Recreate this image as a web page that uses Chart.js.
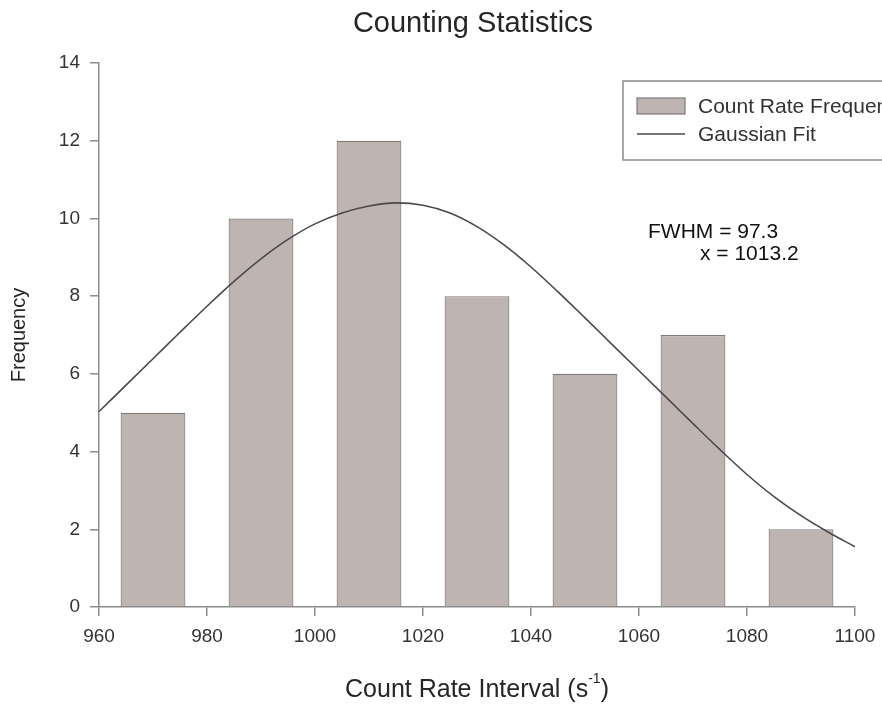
<!DOCTYPE html>
<html>
<head>
<meta charset="utf-8">
<script src="https://cdn.jsdelivr.net/npm/chart.js@4.4.1/dist/chart.umd.min.js"></script>
<style>
  html, body { margin: 0; padding: 0; background: #fff; }
  #wrap { width: 882px; height: 704px; }
</style>
</head>
<body>
<div id="wrap"><canvas id="myChart" width="882" height="704"></canvas></div>
<script>
    // histogram bins (centre of each 20 s^-1 interval) and counts
    const binCenters = [970, 990, 1010, 1030, 1050, 1070, 1090]
    const frequency = [5, 10, 12, 8, 6, 7, 2]

    // gaussian fit, every 5 units
    const fitX = [960, 965, 970, 975, 980, 985, 990, 995, 1000, 1005, 1010, 1015, 1020, 1025, 1030,
                  1035, 1040, 1045, 1050, 1055, 1060, 1065, 1070, 1075, 1080, 1085, 1090, 1095, 1100]
    const fitY = [5.03, 5.71, 6.39, 7.07, 7.74, 8.38, 8.96, 9.46, 9.86, 10.14, 10.32, 10.40, 10.34, 10.14, 9.79,
                  9.32, 8.75, 8.11, 7.44, 6.76, 6.08, 5.40, 4.72, 4.05, 3.41, 2.84, 2.35, 1.93, 1.55]

    const xTicks = [960, 980, 1000, 1020, 1040, 1060, 1080, 1100]
    const yTicks = [0, 2, 4, 6, 8, 10, 12, 14]

    const fontFam = '"Liberation Sans", Arial, Helvetica, sans-serif'
    const axisGray = '#8c8c8c'
    const barFill = '#beb4b1'
    const barEdge = '#807b79'
    const lineColor = '#4a4a4a'

    // title, axis titles, fit text and legend
    const extras = {
      id: 'extras',
      afterDraw(chart) {
        const ctx = chart.ctx
        const area = chart.chartArea
        ctx.save()
        ctx.fillStyle = '#262626'
        ctx.textBaseline = 'middle'

        // title
        ctx.font = '29px ' + fontFam
        ctx.textAlign = 'center'
        ctx.fillText('Counting Statistics', 473, 24)

        // x title with superscript
        ctx.font = '25px ' + fontFam
        ctx.textAlign = 'left'
        const part1 = 'Count Rate Interval (s'
        const sup = '-1'
        const w1 = ctx.measureText(part1).width
        ctx.font = '14px ' + fontFam
        const ws = ctx.measureText(sup).width
        ctx.font = '25px ' + fontFam
        const w2 = ctx.measureText(')').width
        let x0 = (area.left + area.right) / 2 - (w1 + ws + w2) / 2
        const ty = 690
        ctx.fillText(part1, x0, ty)
        ctx.font = '14px ' + fontFam
        ctx.fillText(sup, x0 + w1, ty - 11)
        ctx.font = '25px ' + fontFam
        ctx.fillText(')', x0 + w1 + ws, ty)

        // y title
        ctx.save()
        ctx.translate(19, (area.top + area.bottom) / 2)
        ctx.rotate(-Math.PI / 2)
        ctx.textAlign = 'center'
        ctx.font = '20px ' + fontFam
        ctx.fillText('Frequency', 0, 0)
        ctx.restore()

        // fit parameters
        ctx.fillStyle = '#111'
        ctx.font = '21px ' + fontFam
        ctx.textAlign = 'left'
        ctx.fillText('FWHM = 97.3', 648, 232)
        ctx.fillText('x = 1013.2', 700, 254)

        // legend box (runs off the right edge like the original)
        ctx.fillStyle = '#fff'
        ctx.fillRect(623, 81, 270, 79)
        ctx.strokeStyle = '#8a8a8a'
        ctx.lineWidth = 1.5
        ctx.strokeRect(623, 81, 270, 79)
        const ds = chart.data.datasets
        ctx.fillStyle = barFill
        ctx.fillRect(637, 98, 48, 16)
        ctx.strokeStyle = barEdge
        ctx.lineWidth = 1.2
        ctx.strokeRect(637, 98, 48, 16)
        ctx.strokeStyle = lineColor
        ctx.lineWidth = 1.5
        ctx.beginPath()
        ctx.moveTo(637, 134)
        ctx.lineTo(685, 134)
        ctx.stroke()
        ctx.fillStyle = '#333'
        ctx.font = '21px ' + fontFam
        ctx.fillText(ds[0].label, 698, 107)
        ctx.fillText(ds[1].label, 698, 135)
        ctx.restore()
      }
    }

    const datachart = {
      datasets: [{
        type: 'bar',
        label: 'Count Rate Frequency',
        data: binCenters.map((x, i) => ({ x: x, y: frequency[i] })),
        backgroundColor: barFill,
        borderColor: barEdge,
        borderWidth: 1.2,
        barPercentage: 0.6,
        categoryPercentage: 1.0,
        order: 2
      }, {
        type: 'line',
        label: 'Gaussian Fit',
        data: fitX.map((x, i) => ({ x: x, y: fitY[i] })),
        borderColor: lineColor,
        borderWidth: 1.6,
        pointRadius: 0,
        cubicInterpolationMode: 'monotone',
        fill: false,
        order: 1
      }]
    }

    const tickFont = { family: fontFam, size: 19 }

    const config = {
      type: 'bar',
      data: datachart,
      plugins: [extras],
      options: {
        responsive: false,
        animation: false,
        layout: { padding: { top: 63, right: 27, left: 0, bottom: 0 } },
        plugins: {
          legend: { display: false },
          title: { display: false },
          tooltip: { enabled: false }
        },
        scales: {
          x: {
            type: 'linear',
            min: 960,
            max: 1100,
            offset: false,
            afterBuildTicks: (scale) => { scale.ticks = xTicks.map(v => ({ value: v })) },
            afterFit: (scale) => {
              scale.height = 97
              scale.paddingLeft = 0
              scale.paddingRight = 0
            },
            grid: { display: true, drawOnChartArea: false, drawTicks: true, tickLength: 9,
                    color: axisGray, lineWidth: 1.5, offset: false },
            border: { display: true, color: axisGray, width: 1.5 },
            ticks: { font: tickFont, color: '#333', padding: 9, maxRotation: 0,
                     callback: (v) => String(v) }
          },
          y: {
            min: 0,
            max: 14,
            afterBuildTicks: (scale) => { scale.ticks = yTicks.map(v => ({ value: v })) },
            afterFit: (scale) => {
              scale.width = 99
              scale.paddingTop = 0
              scale.paddingBottom = 0
            },
            grid: { display: true, drawOnChartArea: false, drawTicks: true, tickLength: 9,
                    color: axisGray, lineWidth: 1.5 },
            border: { display: true, color: axisGray, width: 1.5 },
            ticks: { font: tickFont, color: '#333', padding: 10 }
          }
        }
      }
    }

    const myChart = new Chart(document.getElementById('myChart'), config)
</script>
</body>
</html>
